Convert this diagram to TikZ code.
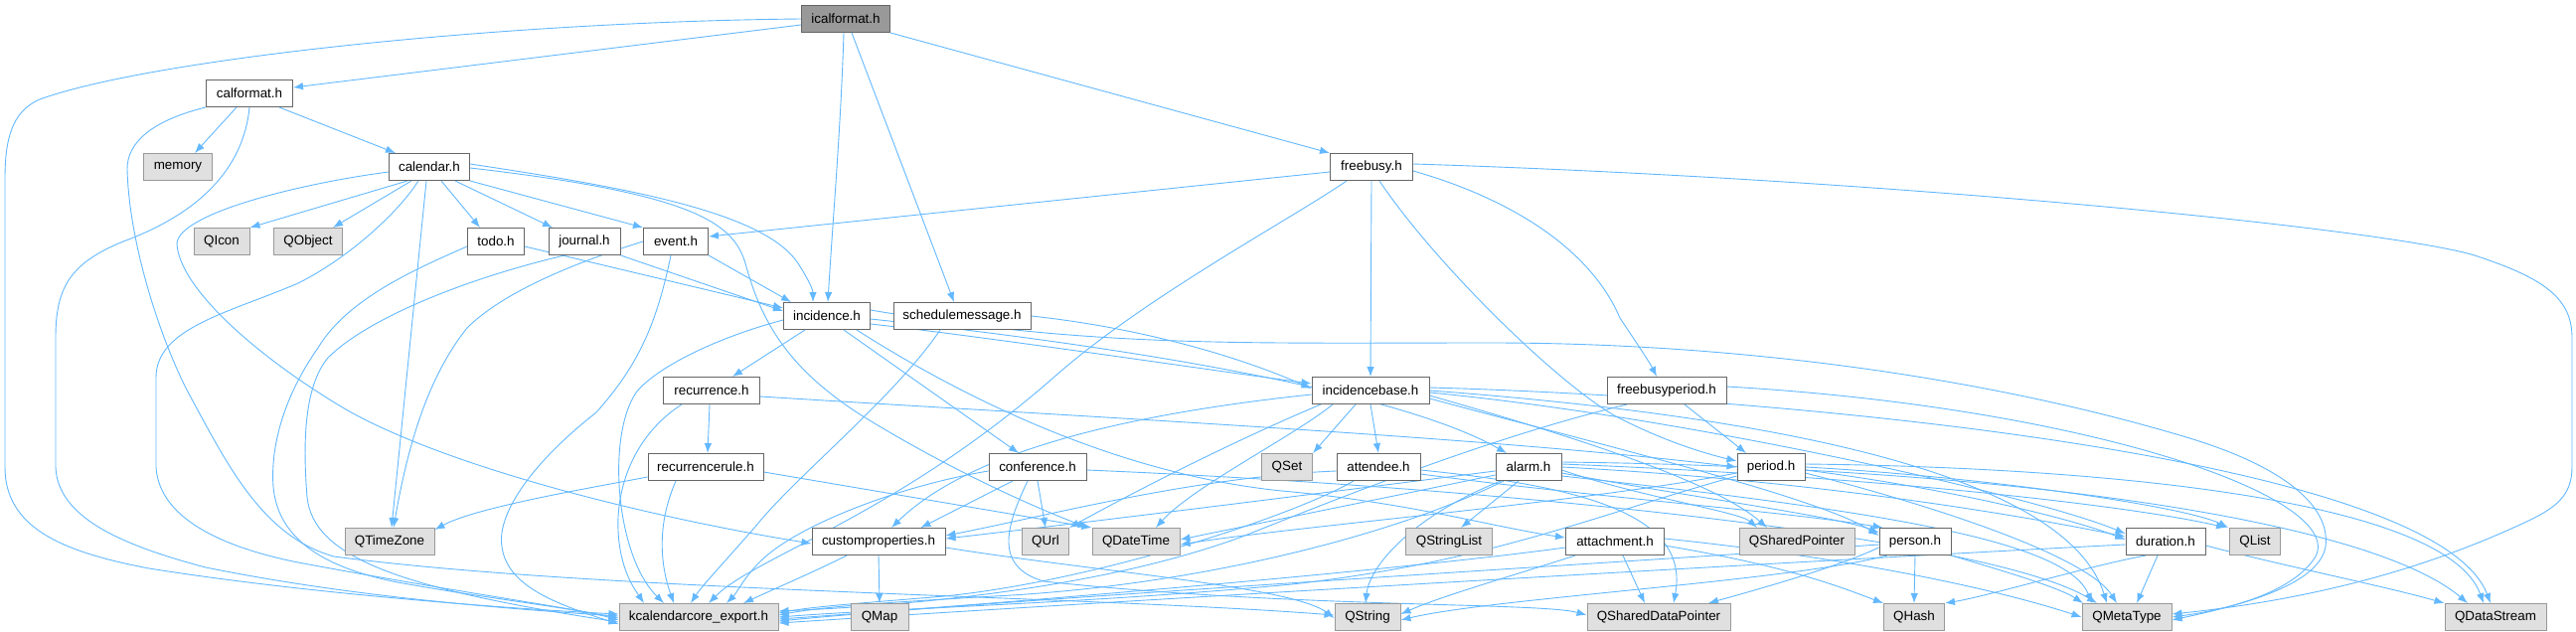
\documentclass[tikz,border=0pt]{standalone}
\usepackage{fontspec}
\setmainfont{Liberation Sans}
\usetikzlibrary{arrows.meta}
\definecolor{edgec}{HTML}{63B8FF}
\definecolor{bordc}{HTML}{666666}
\definecolor{gbord}{HTML}{999999}
\definecolor{gfill}{HTML}{E0E0E0}
\definecolor{ifill}{HTML}{999999}
\pgfdeclarelayer{edgelayer}
\pgfsetlayers{edgelayer,main}
\begin{document}
\begin{tikzpicture}[x=1pt,y=-1pt,
  base/.style={rectangle, inner sep=0pt, minimum height=27pt, line width=1pt, text=black, font=\fontsize{13.4}{15}\selectfont},
  wn/.style={base, draw=bordc, fill=white},
  gn/.style={base, draw=gbord, fill=gfill},
  rn/.style={base, draw=bordc, fill=ifill},
  e/.style={draw=edgec, line width=0.9pt, -{Latex[length=10pt,width=7.5pt]}}]
\useasboundingbox (0,0) rectangle (2592,635);

\node[rn, minimum width=89pt] (ical) at (851,19) {icalformat.h};
\node[wn, minimum width=87pt] (calf) at (251,94) {calformat.h};
\node[gn, minimum width=69pt] (mem) at (179,168) {memory};
\node[wn, minimum width=81pt] (cal) at (432,168) {calendar.h};
\node[wn, minimum width=83pt] (fb) at (1380,168) {freebusy.h};
\node[gn, minimum width=56pt] (qicon) at (223,243) {QIcon};
\node[gn, minimum width=69pt] (qobj) at (310,243) {QObject};
\node[wn, minimum width=57pt] (todo) at (499,243) {todo.h};
\node[wn, minimum width=72pt] (jour) at (588,243) {journal.h};
\node[wn, minimum width=65pt] (event) at (680,243) {event.h};
\node[wn, minimum width=87pt] (inc) at (832,318) {incidence.h};
\node[wn, minimum width=138pt] (sched) at (968,318) {schedulemessage.h};
\node[wn, minimum width=97pt] (rec) at (716,393) {recurrence.h};
\node[wn, minimum width=118pt] (incb) at (1379,393) {incidencebase.h};
\node[wn, minimum width=120pt] (fbp) at (1677,393) {freebusyperiod.h};
\node[wn, minimum width=116pt] (recr) at (710,470) {recurrencerule.h};
\node[wn, minimum width=98pt] (conf) at (1044,470) {conference.h};
\node[gn, minimum width=51pt] (qset) at (1295,470) {QSet};
\node[wn, minimum width=84pt] (att) at (1387,470) {attendee.h};
\node[wn, minimum width=66pt] (alarm) at (1538,470) {alarm.h};
\node[wn, minimum width=68pt] (period) at (1782,470) {period.h};
\node[gn, minimum width=90pt] (qtz) at (392,545) {QTimeZone};
\node[wn, minimum width=134pt] (cp) at (884,545) {customproperties.h};
\node[gn, minimum width=47pt] (qurl) at (1052,545) {QUrl};
\node[gn, minimum width=88pt] (qdt) at (1143,545) {QDateTime};
\node[gn, minimum width=87pt] (qsl) at (1458,545) {QStringList};
\node[wn, minimum width=99pt] (attach) at (1625,545) {attachment.h};
\node[gn, minimum width=116pt] (qsp) at (1808,545) {QSharedPointer};
\node[wn, minimum width=72pt] (person) at (1927,545) {person.h};
\node[wn, minimum width=80pt] (dur) at (2179,545) {duration.h};
\node[gn, minimum width=51pt] (qlist) at (2269,545) {QList};
\node[gn, minimum width=160pt] (kcal) at (703,621) {kcalendarcore\_export.h};
\node[gn, minimum width=58pt] (qmap) at (885,621) {QMap};
\node[gn, minimum width=66pt] (qstr) at (1376,621) {QString};
\node[gn, minimum width=144pt] (qsdp) at (1669,621) {QSharedDataPointer};
\node[gn, minimum width=61pt] (qhash) at (1926,621) {QHash};
\node[gn, minimum width=90pt] (qmt) at (2140,621) {QMetaType};
\node[gn, minimum width=102pt] (qds) at (2511,621) {QDataStream};

\begin{pgfonlayer}{edgelayer}
% ---------- icalformat.h
\draw[e] (ical.west) .. controls (500,22) and (150,60) .. (40,100) .. controls (12,112) and (5,140) .. (5,180) -- (5,470) .. controls (5,530) and (60,555) .. (150,572) .. controls (300,596) and (500,612) .. ([yshift=3pt]kcal.west);
\draw[e] ([yshift=-6pt]ical.west) -- ([yshift=6pt]calf.east);
\draw[e] (ical.south east) -- (fb.north west);
\draw[e] ([xshift=-2pt]ical.south) .. controls (846,130) and (838,220) .. ([xshift=1pt]inc.north);
\draw[e] ([xshift=6pt]ical.south) -- ([xshift=-8pt]sched.north);

% ---------- calformat.h
\draw[e] ([xshift=-13pt]calf.south) -- ([xshift=17pt]mem.north);
\draw[e] ([xshift=30pt]calf.south) -- ([xshift=-34pt]cal.north);
\draw[e] (calf.south) .. controls (245,170) and (200,215) .. (124,243) .. controls (70,265) and (56,290) .. (56,340) -- (56,470) .. controls (58,520) and (120,548) .. (207,571) .. controls (350,600) and (500,612) .. ([yshift=1pt]kcal.west);
\draw[e] (calf.south west) .. controls (150,122) and (128,145) .. (128,170) .. controls (130,250) and (165,350) .. (191,398) .. controls (230,470) and (265,540) .. (336,560) .. controls (600,595) and (1100,600) .. ([yshift=2pt]qstr.west);

% ---------- calendar.h
\draw[e] ([xshift=-22pt]cal.south) -- (qicon.north east);
\draw[e] ([xshift=-18pt]cal.south) -- ([xshift=25pt]qobj.north);
\draw[e] ([xshift=12pt]cal.south) -- ([xshift=-16pt]todo.north);
\draw[e] ([xshift=26pt]cal.south) -- ([xshift=-32pt]jour.north);
\draw[e] (cal.south east) -- (event.north west);
\draw[e] ([yshift=3pt]cal.east) .. controls (640,190) and (770,215) .. (803,265) .. controls (814,282) and (818,292) .. ([xshift=-14pt]inc.north);
\draw[e] ([yshift=-1pt]cal.east) .. controls (700,195) and (738,225) .. (750,265) .. controls (765,320) and (790,370) .. (870,420) .. controls (960,475) and (1040,510) .. ([xshift=-4pt]qdt.north west);
\draw[e] ([xshift=-3pt]cal.south) -- ([xshift=2pt]qtz.north);
\draw[e] ([xshift=-11pt]cal.south) .. controls (400,215) and (350,260) .. (300,285) .. controls (230,315) and (157,330) .. (157,380) -- (157,470) .. controls (160,520) and (220,550) .. (300,566) .. controls (450,594) and (550,608) .. ([yshift=-1pt]kcal.west);
\draw[e] ([yshift=-5pt]cal.west) .. controls (300,185) and (180,215) .. (178,245) .. controls (180,290) and (260,360) .. (348,412) .. controls (450,470) and (650,520) .. ([yshift=-2pt]cp.west);

% ---------- todo.h, journal.h, event.h
\draw[e] ([yshift=-5pt]todo.east) -- ([yshift=8pt]inc.west);
\draw[e] ([yshift=-5pt]todo.west) .. controls (420,270) and (350,300) .. (320,350) .. controls (285,400) and (272,450) .. (275,490) .. controls (280,545) and (330,572) .. (400,586) .. controls (500,604) and (580,612) .. ([yshift=-3pt]kcal.west);
\draw[e] (jour.south east) -- ([yshift=5pt]inc.west);
\draw[e] ([xshift=-20pt]jour.south) .. controls (470,280) and (370,320) .. (330,360) .. controls (305,390) and (305,450) .. (309,500) .. controls (315,560) and (400,592) .. ([yshift=-5pt]kcal.west);
\draw[e] (event.south east) -- ([xshift=-36pt]inc.north);
\draw[e] (event.west) .. controls (560,270) and (500,300) .. (470,330) .. controls (430,380) and (410,450) .. ([xshift=4pt]qtz.north);
\draw[e] ([xshift=-5pt]event.south) .. controls (660,330) and (640,370) .. (600,415) .. controls (530,470) and (500,520) .. (505,550) .. controls (510,590) and (560,608) .. ([yshift=-7pt]kcal.west);

% ---------- freebusy.h
\draw[e] ([yshift=-5pt]fb.west) -- ([yshift=5pt]event.east);
\draw[e] ([xshift=-25pt]fb.south) .. controls (1300,220) and (1150,300) .. (1060,380) .. controls (900,520) and (760,560) .. ([xshift=10pt]kcal.north);
\draw[e] (fb.south) -- (incb.north);
\draw[e] ([xshift=8pt]fb.south) .. controls (1440,260) and (1560,380) .. (1624,418) .. controls (1670,442) and (1710,455) .. ([yshift=6pt]period.west);
\draw[e] ([yshift=-4pt]fb.east) .. controls (1520,200) and (1600,250) .. (1630,320) .. controls (1650,350) and (1660,365) .. ([xshift=-10pt]fbp.north);
\draw[e] ([yshift=3pt]fb.east) .. controls (1900,180) and (2400,230) .. (2490,257) .. controls (2560,280) and (2588,300) .. (2588,340) -- (2588,470) .. controls (2588,500) and (2570,512) .. (2540,526) .. controls (2420,582) and (2300,606) .. ([yshift=3pt]qmt.east);

% ---------- incidence.h
\draw[e] ([xshift=-22pt]inc.south) -- ([xshift=21pt]rec.north);
\draw[e] ([xshift=17pt]inc.south) -- ([xshift=-19pt]conf.north);
\draw[e] ([yshift=-4pt]inc.west) .. controls (720,340) and (660,370) .. (640,395) .. controls (610,440) and (620,560) .. ([xshift=-35pt]kcal.north);
\draw[e] ([yshift=-8pt]inc.east) .. controls (1000,340) and (1200,370) .. ([yshift=7pt]incb.west);
\draw[e] ([yshift=-3pt]inc.east) .. controls (1100,345) and (1400,390) .. ([xshift=-22pt]alarm.north);
\draw[e] ([xshift=30pt]inc.south) .. controls (1000,420) and (1150,480) .. (1290,494) .. controls (1420,506) and (1500,530) .. ([yshift=4pt]attach.west);
\draw[e] ([yshift=6pt]inc.east) .. controls (1100,350) and (1250,345) .. (1500,345) .. controls (1750,345) and (2000,380) .. (2200,440) .. controls (2300,470) and (2345,510) .. (2340,550) .. controls (2333,590) and (2250,610) .. ([yshift=-3pt]qmt.east);

% ---------- schedulemessage.h
\draw[e] ([xshift=-22pt]sched.south) .. controls (900,400) and (800,480) .. (760,530) .. controls (725,570) and (706,590) .. ([xshift=-8pt]kcal.north);
\draw[e] (sched.east) .. controls (1150,330) and (1250,360) .. ([yshift=2pt]incb.west);

% ---------- recurrence.h, recurrencerule.h
\draw[e] ([xshift=-2pt]rec.south) -- ([xshift=2pt]recr.north);
\draw[e] ([xshift=-30pt]rec.south) .. controls (650,430) and (625,470) .. (622,520) .. controls (620,570) and (640,595) .. ([xshift=-55pt]kcal.north);
\draw[e] ([yshift=-6pt]rec.east) .. controls (1100,420) and (1500,440) .. (period.west);
\draw[e] ([yshift=-10pt]recr.west) .. controls (600,490) and (480,510) .. ([yshift=-2pt]qtz.north east);
\draw[e] ([yshift=-5pt]recr.east) -- (qdt.north west);
\draw[e] ([xshift=-30pt]recr.south) .. controls (660,530) and (665,570) .. ([xshift=-25pt]kcal.north);

% ---------- conference.h
\draw[e] ([xshift=-25pt]conf.south) -- ([xshift=-25pt]cp.north east);
\draw[e] (conf.south) -- (qurl.north);
\draw[e] ([yshift=-4pt]conf.west) .. controls (900,490) and (800,530) .. (765,565) .. controls (748,582) and (742,596) .. ([xshift=28pt]kcal.north);
\draw[e] ([xshift=-10pt]conf.south) .. controls (1012,530) and (1000,570) .. (1050,585) .. controls (1300,612) and (1550,606) .. ([yshift=2pt]qsdp.west);
\draw[e] ([yshift=-3pt]conf.east) .. controls (1500,490) and (2000,540) .. ([xshift=-30pt]qmt.north);

% ---------- customproperties.h
\draw[e] ([xshift=-32pt]cp.south) .. controls (820,575) and (785,590) .. ([xshift=45pt]kcal.north);
\draw[e] (cp.south) -- (qmap.north);
\draw[e] ([yshift=-6pt]cp.east) .. controls (1100,575) and (1300,590) .. ([yshift=-1pt]qstr.west);

% ---------- incidencebase.h
\draw[e] ([xshift=-15pt]incb.south) -- (qset.north east);
\draw[e] (incb.south) -- (att.north);
\draw[e] ([yshift=-4pt]incb.west) .. controls (1150,415) and (980,450) .. ([xshift=13pt]cp.north);
\draw[e] ([xshift=-50pt]incb.south) .. controls (1250,440) and (1150,490) .. (qurl.north east);
\draw[e] ([xshift=-38pt]incb.south) .. controls (1300,440) and (1200,490) .. ([xshift=20pt]qdt.north);
\draw[e] ([yshift=-5pt]incb.east) .. controls (1550,430) and (1720,480) .. ([xshift=-30pt]qsp.north);
\draw[e] ([yshift=-8pt]incb.east) .. controls (1600,445) and (1830,500) .. ([yshift=6pt]person.west);
\draw[e] ([yshift=-2pt]incb.east) .. controls (1700,420) and (2050,500) .. ([yshift=8pt]dur.west);
\draw[e] ([yshift=3pt]incb.east) .. controls (1800,400) and (2450,460) .. ([xshift=-5pt]qds.north);
\draw[e] (incb.east) .. controls (1800,420) and (2080,480) .. ([xshift=-20pt]qmt.north);

% ---------- freebusyperiod.h
\draw[e] ([xshift=18pt]fbp.south) -- ([xshift=-25pt]period.north);
\draw[e] ([xshift=-40pt]fbp.south) .. controls (1500,440) and (1350,500) .. (1250,540) .. controls (1100,595) and (900,610) .. ([yshift=6pt]kcal.east);
\draw[e] ([yshift=4pt]fbp.east) .. controls (2100,410) and (2360,500) .. (2330,560) .. controls (2305,600) and (2230,615) .. (qmt.east);

% ---------- attendee.h
\draw[e] ([yshift=-4pt]att.west) .. controls (1200,480) and (1050,520) .. ([yshift=6pt]cp.east);
\draw[e] ([xshift=-25pt]att.south) .. controls (1300,520) and (1100,585) .. (950,600) .. controls (880,606) and (820,610) .. ([yshift=4pt]kcal.east);
\draw[e] ([yshift=-7pt]att.east) .. controls (1600,500) and (1800,515) .. ([xshift=4pt]person.north west);
\draw[e] ([yshift=-3pt]att.east) .. controls (1600,490) and (1700,520) .. ([xshift=15pt]qsdp.north);

% ---------- alarm.h
\draw[e] ([yshift=-4pt]alarm.west) .. controls (1300,500) and (1100,525) .. ([yshift=3pt]cp.east);
\draw[e] ([yshift=-8pt]alarm.west) .. controls (1350,510) and (1250,530) .. ([yshift=2pt]qdt.east);
\draw[e] ([xshift=-25pt]alarm.south) .. controls (1400,540) and (1200,590) .. (1000,600) .. controls (900,606) and (830,610) .. ([yshift=2pt]kcal.east);
\draw[e] ([xshift=-10pt]alarm.south) -- ([xshift=12pt]qsl.north);
\draw[e] ([xshift=-28pt]alarm.south) .. controls (1420,520) and (1378,570) .. ([xshift=-2pt]qstr.north);
\draw[e] ([yshift=-6pt]alarm.east) .. controls (1700,500) and (1850,520) .. ([yshift=9pt]person.west);
\draw[e] ([yshift=-3pt]alarm.east) .. controls (1650,500) and (1750,515) .. ([xshift=-40pt]qsp.north);
\draw[e] (alarm.east) .. controls (1800,482) and (2000,512) .. ([yshift=5pt]dur.west);
\draw[e] ([yshift=3pt]alarm.east) .. controls (1900,480) and (2150,510) .. ([xshift=-3pt]qlist.north west);
\draw[e] ([yshift=5pt]alarm.east) .. controls (2000,470) and (2380,520) .. ([xshift=-28pt]qds.north);
\draw[e] ([yshift=-9pt]alarm.east) .. controls (1900,515) and (2080,545) .. ([xshift=-35pt]qmt.north);

% ---------- period.h
\draw[e] ([yshift=-3pt]period.east) .. controls (1950,490) and (2080,520) .. ([yshift=2pt]dur.west);
\draw[e] (period.east) .. controls (2000,480) and (2200,510) .. ([xshift=-1pt]qlist.north west);
\draw[e] ([yshift=3pt]period.east) .. controls (2100,470) and (2460,500) .. ([xshift=-12pt]qds.north);
\draw[e] ([yshift=-6pt]period.east) .. controls (1950,510) and (2100,560) .. ([xshift=-10pt]qmt.north);
\draw[e] ([yshift=-6pt]period.west) .. controls (1600,505) and (1300,530) .. ([yshift=-3pt]qdt.east);
\draw[e] ([yshift=-9pt]period.west) .. controls (1600,520) and (1500,565) .. (1300,588) .. controls (1100,607) and (900,612) .. ([yshift=0pt]kcal.east);

% ---------- attachment.h
\draw[e] ([yshift=-6pt]attach.west) .. controls (1400,575) and (1000,608) .. ([yshift=-2pt]kcal.east);
\draw[e] ([xshift=-40pt]attach.south) .. controls (1520,580) and (1450,600) .. ([yshift=3pt]qstr.east);
\draw[e] ([xshift=8pt]attach.south) -- ([xshift=-14pt]qsdp.north);
\draw[e] ([yshift=-4pt]attach.east) .. controls (1800,570) and (1850,590) .. (qhash.north west);
\draw[e] ([yshift=3pt]attach.east) .. controls (1850,560) and (2000,590) .. (qmt.west);

% ---------- person.h
\draw[e] (person.south) -- (qhash.north);
\draw[e] ([yshift=-6pt]person.west) .. controls (1850,570) and (1780,590) .. ([xshift=50pt]qsdp.north);
\draw[e] ([xshift=-28pt]person.south) .. controls (1800,585) and (1500,602) .. ([yshift=-3pt]qstr.east);
\draw[e] ([yshift=-3pt]person.west) .. controls (1600,568) and (1000,604) .. ([yshift=-4pt]kcal.east);
\draw[e] (person.south east) .. controls (2000,570) and (2070,590) .. ([xshift=-44pt]qmt.north);

% ---------- duration.h
\draw[e] ([xshift=-20pt]dur.south) .. controls (2100,570) and (2000,600) .. (qhash.north east);
\draw[e] ([xshift=-8pt]dur.south) -- ([xshift=10pt]qmt.north);
\draw[e] ([yshift=-4pt]dur.east) .. controls (2300,570) and (2400,590) .. (qds.north west);
\draw[e] ([yshift=-3pt]dur.west) .. controls (1900,560) and (1200,600) .. ([yshift=-6pt]kcal.east);
\end{pgfonlayer}
\end{tikzpicture}
\end{document}
